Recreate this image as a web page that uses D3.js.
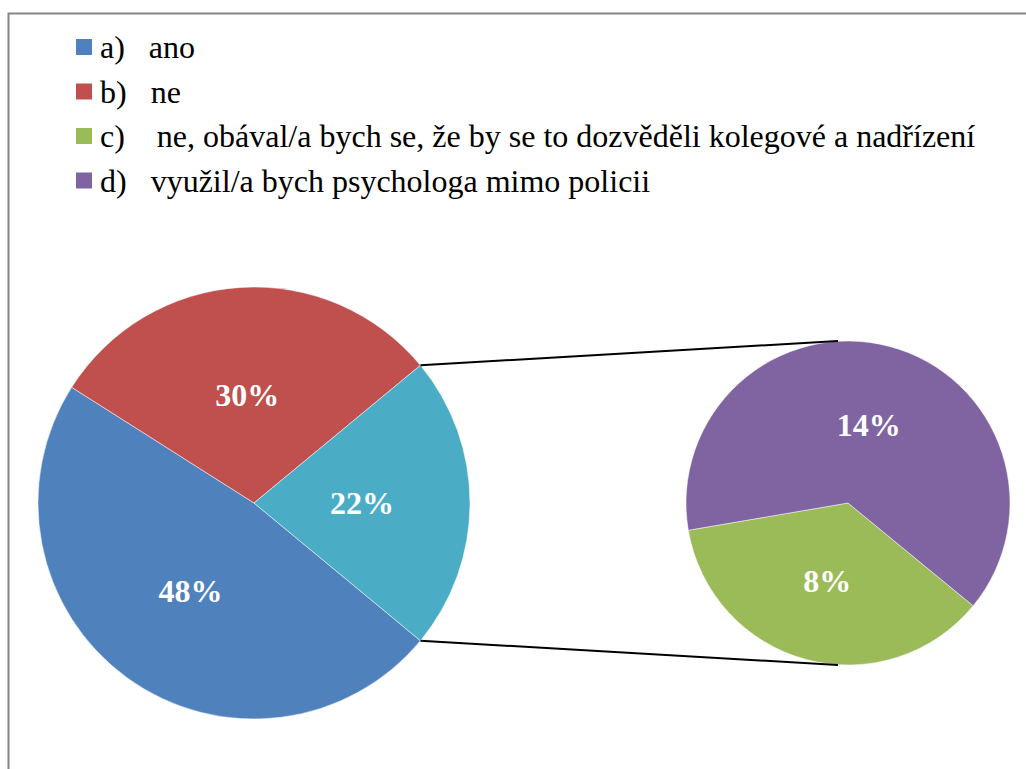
<!DOCTYPE html>
<html>
<head>
<meta charset="utf-8">
<script src="https://cdn.jsdelivr.net/npm/d3@7"></script>
<style>
  html, body { margin: 0; padding: 0; background: #fff; }
  svg { display: block; }
  .serif { font-family: "Liberation Serif", "Times New Roman", serif; }
</style>
</head>
<body>
<div id="chart"></div>
<script>
// Pie of pie: main answers, the "other" slice split into c) and d)

const legendLabels = [
    'a)\u00a0\u00a0\u00a0ano',
    'b)\u00a0\u00a0\u00a0ne',
    'c)\u00a0\u00a0\u00a0\u00a0ne, obával/a bych se, že by se to dozvěděli kolegové a nadřízení',
    'd)\u00a0\u00a0\u00a0využil/a bych psychologa mimo policii'
];
const legendColors = ['#4F81BD', '#C0504D', '#9BBB59', '#8064A2'];

// main pie: a, b, other (c + d)
const mainLabels = ['48%', '30%', '22%'];
const mainValues = [48, 30, 22];
const mainColors = ['#4F81BD', '#C0504D', '#4BACC6'];

// secondary pie: c, d
const subLabels = ['8%', '14%'];
const subValues = [8, 14];
const subColors = ['#9BBB59', '#8064A2'];

const width = 1026, height = 769;

const svg = d3.select('#chart').append('svg')
    .attr('width', width)
    .attr('height', height);

// Chart border (runs past the right and bottom edges)
svg.append('rect')
    .attr('x', 8.5).attr('y', 13.5)
    .attr('width', width + 20).attr('height', height + 20)
    .attr('fill', 'none')
    .attr('stroke', '#868686')
    .attr('stroke-width', 2);

// Legend
const legend = svg.append('g').attr('transform', 'translate(76, 39)');
const rowH = 44.5;
legendLabels.forEach((label, i) => {
    const row = legend.append('g').attr('transform', `translate(0, ${i * rowH})`);
    row.append('rect')
        .attr('width', 16).attr('height', 16)
        .attr('fill', legendColors[i]);
    row.append('text')
        .attr('class', 'serif')
        .attr('x', 24).attr('y', 19)
        .style('font-size', '32px')
        .attr('fill', '#000')
        .text(label);
});

const deg = Math.PI / 180;

// Main pie
const main = { cx: 254, cy: 503, r: 216 };
const mainStart = 129.6 * deg;
const mainPie = d3.pie().sort(null)
    .startAngle(mainStart)
    .endAngle(mainStart + 2 * Math.PI);
const mainArc = d3.arc().innerRadius(0).outerRadius(main.r);
const mainArcs = mainPie(mainValues);

const gMain = svg.append('g').attr('transform', `translate(${main.cx}, ${main.cy})`);
gMain.selectAll('path')
    .data(mainArcs)
    .enter()
    .append('path')
    .attr('d', mainArc)
    .attr('fill', (d, i) => mainColors[i])
    .attr('stroke', '#fff')
    .attr('stroke-width', 0.5);

gMain.selectAll('text')
    .data(mainArcs)
    .enter()
    .append('text')
    .attr('class', 'serif')
    .attr('transform', d => `translate(${mainArc.centroid(d)})`)
    .attr('text-anchor', 'middle')
    .attr('dy', '0.35em')
    .style('font-weight', 'bold')
    .style('font-size', '32px')
    .attr('fill', '#fff')
    .text((d, i) => mainLabels[i]);

// Secondary pie
const sub = { cx: 848, cy: 503, r: 162 };
const subStart = 129.4 * deg;
const subPie = d3.pie().sort(null)
    .startAngle(subStart)
    .endAngle(subStart + 2 * Math.PI);
const subArc = d3.arc().innerRadius(0).outerRadius(sub.r);
const subArcs = subPie(subValues);

const gSub = svg.append('g').attr('transform', `translate(${sub.cx}, ${sub.cy})`);
gSub.selectAll('path')
    .data(subArcs)
    .enter()
    .append('path')
    .attr('d', subArc)
    .attr('fill', (d, i) => subColors[i])
    .attr('stroke', '#fff')
    .attr('stroke-width', 0.5);

gSub.selectAll('text')
    .data(subArcs)
    .enter()
    .append('text')
    .attr('class', 'serif')
    .attr('transform', d => `translate(${subArc.centroid(d)})`)
    .attr('text-anchor', 'middle')
    .attr('dy', '0.35em')
    .style('font-weight', 'bold')
    .style('font-size', '32px')
    .attr('fill', '#fff')
    .text((d, i) => subLabels[i]);

// Connector lines from the "other" slice edges to the secondary pie
const other = mainArcs[2];
const edgePoint = a => [main.cx + main.r * Math.sin(a), main.cy - main.r * Math.cos(a)];
const pTop = edgePoint(other.startAngle);
const pBottom = edgePoint(other.endAngle);
const connectors = [
    [pTop, [sub.cx - 10, sub.cy - sub.r]],
    [pBottom, [sub.cx - 10, sub.cy + sub.r]]
];
svg.selectAll('line.connector')
    .data(connectors)
    .enter()
    .append('line')
    .attr('class', 'connector')
    .attr('x1', d => d[0][0]).attr('y1', d => d[0][1])
    .attr('x2', d => d[1][0]).attr('y2', d => d[1][1])
    .attr('stroke', '#000')
    .attr('stroke-width', 2);
</script>
</body>
</html>
